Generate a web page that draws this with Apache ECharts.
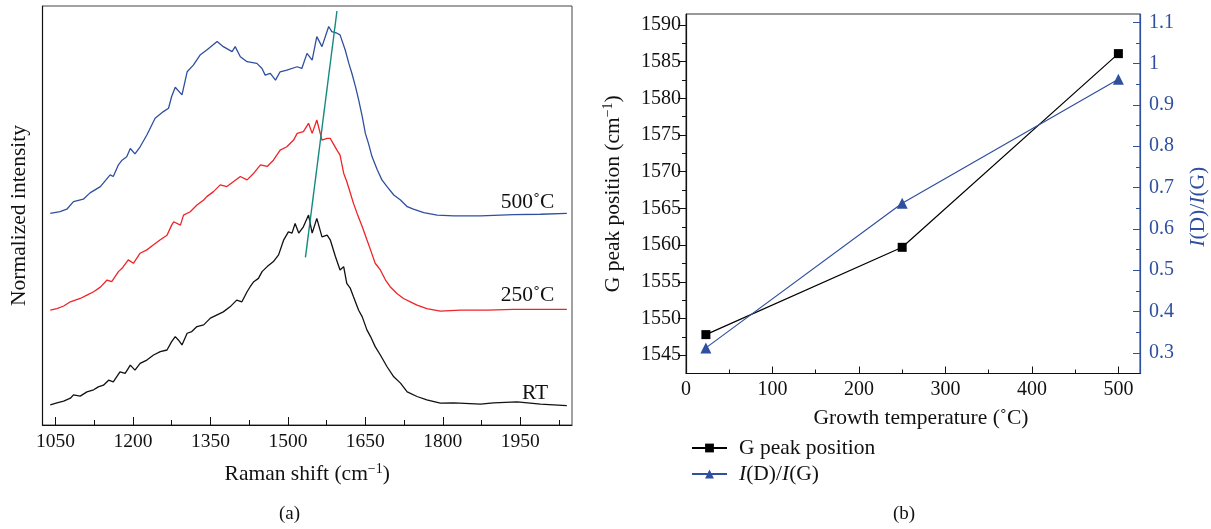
<!DOCTYPE html>
<html>
<head>
<meta charset="utf-8">
<script src="https://cdn.jsdelivr.net/npm/echarts@6/dist/echarts.min.js"></script>
<style>
html,body{margin:0;padding:0;background:#fff;}
#chart{width:1211px;height:529px;}
</style>
</head>
<body>
<div id="chart"></div>
<script>
// ---------- Panel (a): Raman spectra (offset for clarity) ----------
const shiftRT = [1040,1053,1066,1079,1085,1098,1111,1124,1133,1143,1153,1162,1175,1185,1195,1204,1214,1227,1240,1253,1266,1275,1282,1288,1295,1305,1314,1324,1337,1350,1363,1375,1388,1401,1411,1421,1427,1434,1443,1450,1460,1472,1482,1492,1501,1508,1514,1521,1530,1540,1547,1556,1566,1576,1582,1592,1601,1608,1614,1621,1627,1637,1644,1653,1660,1669,1679,1692,1705,1718,1731,1750,1769,1795,1821,1873,1898,1944,1989,2040];
const intRT = [4.8,5.3,5.7,6.4,7.2,6.9,7.9,8.4,9.1,9.5,10.7,10.3,12.7,12.3,14.3,13.1,14.7,15.5,16.7,17.5,17.9,19.9,21.1,20.3,19.1,21.9,22.3,23.5,23.9,25.5,26.3,27.0,28.2,29.8,29.4,31.8,33.0,34.2,35.0,36.6,37.8,39.0,40.6,44.2,46.1,45.8,48.1,45.8,47.3,50.1,45.8,49.3,44.9,45.3,44.2,40.2,37.0,37.8,33.8,32.6,30.6,27.4,25.8,22.7,21.1,18.7,16.7,13.9,11.5,10.0,7.9,6.8,6.0,5.2,5.3,5.0,5.3,5.5,5.0,4.6];

const shift250 = [1040,1053,1066,1079,1098,1111,1124,1137,1150,1159,1172,1179,1191,1201,1214,1227,1240,1253,1266,1275,1279,1292,1298,1311,1324,1337,1343,1356,1369,1382,1395,1408,1421,1434,1447,1460,1472,1485,1498,1511,1518,1530,1540,1547,1556,1566,1576,1582,1595,1601,1608,1614,1621,1627,1634,1644,1653,1660,1669,1679,1689,1698,1711,1724,1737,1750,1769,1795,1834,1886,1937,2040];
const int250 = [27.4,27.8,28.4,29.4,30.2,31.0,31.8,32.9,34.6,34.2,36.6,37.4,39.4,38.6,41.0,41.8,43.0,44.2,45.3,47.7,48.5,47.7,50.1,50.9,52.5,53.7,54.5,55.7,57.3,56.9,58.1,59.3,58.5,60.1,62.1,61.7,63.2,65.6,66.4,68.0,69.6,70.0,72.0,69.6,72.8,68.0,68.4,68.4,65.6,64.4,60.1,58.1,55.3,52.9,50.5,47.3,44.2,41.8,38.6,37.0,34.6,33.0,31.4,30.2,29.4,28.6,27.8,27.2,27.4,27.4,27.6,27.6];

const shift500 = [1040,1059,1072,1085,1104,1117,1137,1156,1162,1172,1179,1188,1195,1204,1214,1227,1243,1259,1269,1275,1282,1295,1305,1317,1330,1343,1363,1375,1392,1398,1408,1421,1440,1450,1456,1466,1476,1485,1498,1518,1527,1537,1547,1556,1566,1579,1585,1595,1601,1611,1618,1624,1631,1637,1644,1650,1656,1663,1673,1682,1692,1705,1718,1731,1743,1763,1789,1821,1873,1937,1989,2040];
const int500 = [50.5,50.9,51.5,53.3,53.9,55.4,56.9,59.7,59.3,62.1,63.2,64.0,66.0,64.7,66.4,69.2,73.2,74.8,75.6,78.4,80.6,78.8,84.3,85.9,88.3,89.5,91.5,90.3,89.1,90.3,87.9,86.7,86.3,85.1,83.5,83.9,82.3,84.3,84.7,85.5,85.1,88.7,87.1,92.7,90.3,95.1,93.9,93.5,93.1,89.5,86.3,83.9,80.7,77.6,73.6,69.6,67.2,64.0,60.9,58.5,56.9,54.9,53.7,52.1,51.5,50.7,50.1,49.9,49.9,50.2,50.3,50.5];

const trendShift = [1534, 1595];
const trendInt = [40.0, 98.8];

const ramanTicks = [1050,1200,1350,1500,1650,1800,1950];
const ramanMinor = [1125,1275,1425,1575,1725,1875,2025];
const curveLabels = ['500˚C','250˚C','RT'];
const curveLabelPos = [[2016,53.2],[2016,31.0],[2004,7.6]];

// ---------- Panel (b): G peak position and I(D)/I(G) ----------
const growthTemp = [23, 250, 500];
const gPeak = [1547.8, 1559.7, 1586.1];
const ratioDG = [0.312, 0.662, 0.962];

const tempTicks = [0,100,200,300,400,500];
const tempMinor = [50,150,250,350,450];
const gTicks = [1545,1550,1555,1560,1565,1570,1575,1580,1585,1590];
const gMinor = [1547.5,1552.5,1557.5,1562.5,1567.5,1572.5,1577.5,1582.5,1587.5];
const ratioTicks = [0.3,0.4,0.5,0.6,0.7,0.8,0.9,1,1.1];
const ratioMinor = [0.35,0.45,0.55,0.65,0.75,0.85,0.95,1.05];

const zip = (a, b) => a.map((v, i) => [v, b[i]]);
const plain = v => String(v);

const FONT = '"Liberation Serif", "DejaVu Serif", serif';
const BLUE = '#2f4f9f';
const RED = '#ee2428';
const TEAL = '#138a80';
const BLACK = '#111';
const NAME_SIZE = 21.5;

const supRich = {
  sup: { fontSize: 14, fontFamily: FONT, verticalAlign: 'top', lineHeight: 14 },
  i: { fontStyle: 'italic', fontSize: NAME_SIZE, fontFamily: FONT }
};

const chart = echarts.init(document.getElementById('chart'), null, { renderer: 'canvas' });

const option = {
  animation: false,
  backgroundColor: '#fff',
  textStyle: { fontFamily: FONT },
  grid: [
    { left: 42.5, top: 6, width: 529.5, height: 419, show: true, borderColor: '#444', borderWidth: 1, containLabel: false },
    { left: 686, top: 14, width: 454, height: 359.5, show: true, borderColor: '#333', borderWidth: 1, containLabel: false }
  ],
  xAxis: [
    {
      gridIndex: 0, type: 'value', min: 1025, max: 2050,
      axisLine: { lineStyle: { color: BLACK, width: 1.2 } },
      axisTick: { inside: true, length: 8, customValues: ramanTicks, lineStyle: { color: BLACK } },
      axisLabel: { customValues: ramanTicks, formatter: plain, color: BLACK, fontSize: 19.5, fontFamily: FONT, margin: 7 },
      splitLine: { show: false },
      name: 'Raman shift (cm{sup|−1})', nameLocation: 'middle', nameGap: 37,
      nameTextStyle: { color: BLACK, fontSize: NAME_SIZE, fontFamily: FONT, lineHeight: 25, rich: supRich }
    },
    {
      gridIndex: 0, type: 'value', min: 1025, max: 2050, position: 'bottom',
      axisLine: { show: false },
      axisTick: { inside: true, length: 5, customValues: ramanMinor, lineStyle: { color: BLACK } },
      axisLabel: { show: false }, splitLine: { show: false }
    },
    {
      gridIndex: 1, type: 'value', min: 0, max: 525,
      axisLine: { lineStyle: { color: BLACK, width: 1.2 } },
      axisTick: { inside: true, length: 7, customValues: tempTicks, lineStyle: { color: BLACK } },
      axisLabel: { customValues: tempTicks, formatter: plain, color: BLACK, fontSize: 20, fontFamily: FONT, margin: 6 },
      splitLine: { show: false },
      name: 'Growth temperature (˚C)', nameLocation: 'middle', nameGap: 34,
      nameTextStyle: { color: BLACK, fontSize: NAME_SIZE, fontFamily: FONT, padding: [0, 0, 0, 16] }
    },
    {
      gridIndex: 1, type: 'value', min: 0, max: 525, position: 'bottom',
      axisLine: { show: false },
      axisTick: { inside: true, length: 4, customValues: tempMinor, lineStyle: { color: BLACK } },
      axisLabel: { show: false }, splitLine: { show: false }
    }
  ],
  yAxis: [
    {
      gridIndex: 0, type: 'value', min: 0, max: 100,
      axisLine: { show: true, lineStyle: { color: BLACK, width: 1.2 } },
      axisTick: { show: false }, axisLabel: { show: false }, splitLine: { show: false },
      name: 'Normalized intensity', nameLocation: 'middle', nameGap: 12,
      nameTextStyle: { color: BLACK, fontSize: NAME_SIZE, fontFamily: FONT }
    },
    {
      gridIndex: 1, type: 'value', position: 'left', min: 1542.5, max: 1591.5,
      axisLine: { show: true, lineStyle: { color: BLACK, width: 1.2 } },
      axisTick: { inside: false, length: 8, customValues: gTicks, lineStyle: { color: BLACK } },
      axisLabel: { customValues: gTicks, formatter: plain, color: BLACK, fontSize: 20, fontFamily: FONT, margin: 5 },
      splitLine: { show: false },
      name: 'G peak position (cm{sup|−1})', nameLocation: 'middle', nameGap: 60,
      nameTextStyle: { color: BLACK, fontSize: NAME_SIZE, fontFamily: FONT, lineHeight: 25, rich: supRich }
    },
    {
      gridIndex: 1, type: 'value', position: 'left', min: 1542.5, max: 1591.5,
      axisLine: { show: false },
      axisTick: { inside: false, length: 4, customValues: gMinor, lineStyle: { color: BLACK } },
      axisLabel: { show: false }, splitLine: { show: false }
    },
    {
      gridIndex: 1, type: 'value', position: 'right', min: 0.25, max: 1.12,
      axisLine: { show: true, lineStyle: { color: BLUE, width: 1.2 } },
      axisTick: { inside: true, length: 7, customValues: ratioTicks, lineStyle: { color: BLUE } },
      axisLabel: { customValues: ratioTicks, formatter: plain, color: BLUE, fontSize: 20, fontFamily: FONT, margin: 9 },
      splitLine: { show: false },
      name: '{i|I}(D)/{i|I}(G)', nameLocation: 'middle', nameGap: 47,
      nameTextStyle: { color: BLUE, fontSize: NAME_SIZE, fontFamily: FONT, padding: [0, 26, 0, 0],
        rich: { i: { fontStyle: 'italic', fontSize: NAME_SIZE, fontFamily: FONT, color: BLUE } } }
    },
    {
      gridIndex: 1, type: 'value', position: 'right', min: 0.25, max: 1.12,
      axisLine: { show: false },
      axisTick: { inside: true, length: 4, customValues: ratioMinor, lineStyle: { color: BLUE } },
      axisLabel: { show: false }, splitLine: { show: false }
    }
  ],
  legend: {
    orient: 'vertical', left: 691, top: 437, itemGap: 4, padding: 0,
    itemWidth: 35, itemHeight: 11,
    data: ['G peak position', 'I(D)/I(G)'],
    formatter: n => n === 'I(D)/I(G)' ? '{i|I}(D)/{i|I}(G)' : n,
    textStyle: { color: BLACK, fontSize: NAME_SIZE, fontFamily: FONT, lineHeight: 22, padding: [0, 0, 0, 7],
      rich: { i: { fontStyle: 'italic', fontSize: NAME_SIZE, fontFamily: FONT, color: BLACK } } }
  },
  graphic: [
    { type: 'text', left: 279, top: 505, style: { text: '(a)', font: '19px ' + FONT, fill: BLACK } },
    { type: 'text', left: 893, top: 505, style: { text: '(b)', font: '19px ' + FONT, fill: BLACK } }
  ],
  series: [
    {
      type: 'line', name: 'RT', xAxisIndex: 0, yAxisIndex: 0, data: zip(shiftRT, intRT),
      showSymbol: false, symbol: 'none', lineStyle: { color: BLACK, width: 1.3 },
      markPoint: { symbol: 'circle', symbolSize: 0, silent: true,
        label: { show: true, position: [0, 0], align: 'right', verticalAlign: 'middle', color: BLACK, fontSize: NAME_SIZE, fontFamily: FONT, formatter: curveLabels[2] },
        data: [{ coord: curveLabelPos[2] }] }
    },
    {
      type: 'line', name: '250', xAxisIndex: 0, yAxisIndex: 0, data: zip(shift250, int250),
      showSymbol: false, symbol: 'none', lineStyle: { color: RED, width: 1.3 },
      markPoint: { symbol: 'circle', symbolSize: 0, silent: true,
        label: { show: true, position: [0, 0], align: 'right', verticalAlign: 'middle', color: BLACK, fontSize: NAME_SIZE, fontFamily: FONT, formatter: curveLabels[1] },
        data: [{ coord: curveLabelPos[1] }] }
    },
    {
      type: 'line', name: '500', xAxisIndex: 0, yAxisIndex: 0, data: zip(shift500, int500),
      showSymbol: false, symbol: 'none', lineStyle: { color: BLUE, width: 1.3 },
      markPoint: { symbol: 'circle', symbolSize: 0, silent: true,
        label: { show: true, position: [0, 0], align: 'right', verticalAlign: 'middle', color: BLACK, fontSize: NAME_SIZE, fontFamily: FONT, formatter: curveLabels[0] },
        data: [{ coord: curveLabelPos[0] }] }
    },
    {
      type: 'line', name: 'trend', xAxisIndex: 0, yAxisIndex: 0, data: zip(trendShift, trendInt),
      showSymbol: false, symbol: 'none', lineStyle: { color: TEAL, width: 1.4 }
    },
    {
      type: 'line', name: 'G peak position', xAxisIndex: 2, yAxisIndex: 1, data: zip(growthTemp, gPeak),
      symbol: 'rect', symbolSize: 9, showSymbol: true,
      itemStyle: { color: '#000' }, lineStyle: { color: '#000', width: 1.2 }
    },
    {
      type: 'line', name: 'I(D)/I(G)', xAxisIndex: 2, yAxisIndex: 3, data: zip(growthTemp, ratioDG),
      symbol: 'triangle', symbolSize: 11, showSymbol: true,
      itemStyle: { color: BLUE }, lineStyle: { color: BLUE, width: 1.2 }
    }
  ]
};
chart.setOption(option);
</script>
</body>
</html>
